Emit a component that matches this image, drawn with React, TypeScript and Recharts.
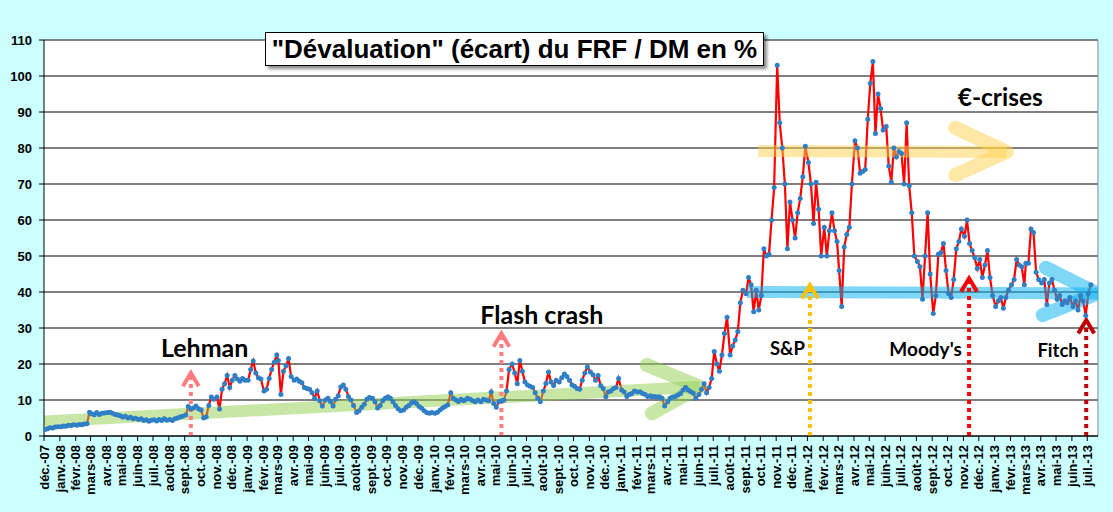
import {
  LineChart,
  Line,
  XAxis,
  YAxis,
  CartesianGrid,
  ReferenceLine,
  ReferenceDot,
} from "recharts";

// "Dévaluation" (écart) du FRF / DM en %,
// six readings per month (around the 3rd, 8th, 13th, 18th, 23rd and 28th)
const SAMPLE_DAYS = [3, 8, 13, 18, 23, 28];

const dev2007 = [1.8, 2.0, 2.3, 2.2, 2.5, 2.6]; // déc.

const dev2008 = [
  2.6, 2.8, 2.7, 3.0, 2.9, 3.1, // janv.
  3.0, 3.2, 3.1, 3.3, 3.4, 6.6, // févr.
  6.2, 5.9, 6.5, 6.0, 6.3, 6.4, // mars
  6.5, 6.6, 6.3, 6.0, 5.8, 5.6, // avr.
  5.3, 5.5, 5.0, 5.2, 4.8, 4.9, // mai
  4.6, 4.8, 4.3, 4.5, 4.1, 4.4, // juin
  4.5, 4.2, 4.6, 4.3, 4.8, 4.4, // juil.
  4.6, 4.3, 4.8, 5.0, 5.3, 5.5, // août
  5.8, 8.2, 7.5, 7.8, 8.3, 7.6, // sept.
  7.2, 5.0, 5.3, 8.5, 10.8, 10.2, // oct.
  10.8, 7.5, 13.0, 14.5, 16.8, 13.5, // nov.
  15.5, 16.8, 15.8, 15.2, 16.0, 15.5, // déc.
];

const dev2009 = [
  15.5, 18.5, 20.8, 17.5, 16.2, 15.8,
  12.5, 13.0, 16.0, 18.5, 20.5, 22.5,
  21.0, 11.5, 18.0, 19.5, 21.5, 16.5,
  15.5, 15.8, 15.2, 14.8, 13.5, 13.2,
  13.0, 12.0, 10.5, 12.5, 9.8, 8.3,
  10.0, 10.5, 9.5, 8.3, 10.2, 11.2,
  13.6, 14.2, 13.0, 11.0, 10.0, 8.5,
  6.5, 7.0, 8.0, 8.8, 10.2, 10.7,
  10.5, 9.5, 7.8, 8.5, 9.8, 10.5,
  10.9, 10.5, 9.5, 8.5, 7.6, 7.0,
  7.2, 8.0, 8.5, 9.2, 9.5, 9.0,
  8.2, 7.7, 7.0, 6.5, 6.3, 6.5,
];

const dev2010 = [
  6.3, 6.6, 7.2, 7.8, 8.2, 8.6,
  12.0, 10.5, 10.0, 9.6, 10.2, 9.8,
  10.0, 10.5, 10.2, 9.8, 9.5, 10.0,
  9.5, 10.2, 10.0, 9.8, 12.2, 9.0,
  8.0, 9.5, 9.8, 10.0, 12.5, 18.5,
  20.0, 17.5, 14.5, 21.0, 18.0, 15.0,
  14.2, 13.8, 13.5, 12.0, 10.5, 9.5,
  12.5, 14.6, 17.8, 15.0, 14.0, 15.5,
  15.0, 16.2, 17.2, 16.5, 15.5, 14.2,
  13.8, 13.2, 13.0, 15.5, 17.5, 19.2,
  17.8, 17.0, 15.5, 16.8, 14.0, 13.2,
  10.9, 12.2, 12.5, 13.2, 13.5, 16.0,
];

const dev2011 = [
  12.8, 12.2, 11.0, 11.5, 11.8, 12.5,
  12.2, 12.3, 11.8, 11.5, 11.0, 11.2,
  10.9, 11.0, 10.8, 10.9, 10.5, 8.3,
  9.5, 10.5, 10.8, 11.0, 11.4, 11.8,
  12.8, 13.5, 12.8, 12.3, 11.9, 10.5,
  11.5, 13.0, 14.5, 12.0, 13.5, 16.0,
  23.5, 20.0, 18.0, 22.5, 28.5, 33.0,
  22.5, 25.0, 26.7, 29.0, 37.0, 40.5,
  39.5, 44.0, 42.0, 34.5, 40.5, 35.0,
  39.0, 52.0, 50.0, 50.5, 60.0, 69.0,
  103.0, 87.0, 80.0, 70.0, 52.0, 65.0,
  60.0, 55.0, 62.0, 66.0, 72.0, 80.5,
];

const dev2012 = [
  76.0, 70.0, 59.0, 70.5, 63.0, 50.0,
  58.0, 50.0, 57.0, 62.0, 57.0, 54.0,
  46.0, 36.0, 52.5, 56.0, 58.0, 70.0,
  82.0, 80.0, 73.0, 73.5, 74.0, 88.0,
  98.0, 104.0, 84.0, 95.0, 91.0, 85.0,
  86.0, 75.0, 70.5, 80.0, 77.5, 79.0,
  78.5, 70.0, 87.0, 69.5, 62.0, 50.0,
  48.5, 47.0, 38.0, 50.0, 62.0, 45.0,
  34.0, 39.0, 50.5, 51.0, 53.5, 46.0,
  39.5, 38.5, 43.5, 52.0, 54.0, 57.5,
  55.5, 60.0, 53.5, 51.5, 49.5, 46.5,
  49.0, 44.0, 47.5, 51.5, 44.0, 39.0,
];

const dev2013 = [
  36.0, 37.5, 38.5, 35.5, 38.5, 40.5,
  42.0, 43.5, 49.0, 47.5, 47.0, 42.0,
  48.0, 48.0, 57.5, 56.5, 45.5, 43.5,
  42.5, 43.5, 36.5, 42.5, 43.5, 40.5,
  38.0, 39.0, 36.5, 37.5, 37.0, 38.5,
  36.0, 37.5, 35.0, 39.0, 37.5, 33.5,
  39.5, 42.0, // juil.
];

const MONTHS_FR = [
  "janv.", "févr.", "mars", "avr.", "mai", "juin",
  "juil.", "août", "sept.", "oct.", "nov.", "déc.",
];

const Y_TICKS = [0, 10, 20, 30, 40, 50, 60, 70, 80, 90, 100, 110];

// events: dotted arrows + captions
const events = [
  { name: "Lehman", at: [2008, 9, 13], tip: 17.5, color: "#FF7C80", text: [2008, 10, 10], textY: 24.4, size: 25 },
  { name: "Flash crash", at: [2010, 5, 13], tip: 28.5, color: "#FF7C80", text: [2010, 7, 31], textY: 33.5, size: 25 },
  { name: "S&P", at: [2012, 1, 6], tip: 41.9, color: "#FFC000", text: [2011, 11, 23], textY: 24.2, size: 18.5 },
  { name: "Moody's", at: [2012, 11, 12], tip: 43.8, color: "#FF0000", text: [2012, 8, 19], textY: 24.2, size: 19 },
  { name: "Fitch", at: [2013, 6, 29], tip: 32.2, color: "#C00000", text: [2013, 5, 5], textY: 23.9, size: 18.5 },
];

// broad translucent trend arrows: shaft start, tip, chevron arm ends
const trends = [
  { color: "#92D050", opacity: 0.5, from: [2007, 12, 1, 4.0], tip: [2011, 6, 5, 13.7], armA: [2011, 2, 21, 19.7], armB: [2011, 3, 3, 6.3] },
  { color: "#FFD24D", opacity: 0.5, from: [2011, 9, 27, 79.2], tip: [2013, 1, 25, 78.9], armA: [2012, 10, 16, 85.6], armB: [2012, 10, 16, 72.5] },
  { color: "#00B0F0", opacity: 0.5, from: [2011, 9, 5, 40.0], tip: [2013, 7, 21, 39.6], armA: [2013, 4, 11, 46.7], armB: [2013, 4, 5, 33.6] },
];

const ORIGIN = Date.UTC(2007, 11, 1);
const day = (y: number, m: number, d: number) =>
  (Date.UTC(y, m - 1, d) - ORIGIN) / 86400000;

const X_END = day(2013, 7, 22);

function buildSeries() {
  const years = [
    { year: 2007, first: 12, values: dev2007 },
    { year: 2008, first: 1, values: dev2008 },
    { year: 2009, first: 1, values: dev2009 },
    { year: 2010, first: 1, values: dev2010 },
    { year: 2011, first: 1, values: dev2011 },
    { year: 2012, first: 1, values: dev2012 },
    { year: 2013, first: 1, values: dev2013 },
  ];
  const out: { t: number; v: number }[] = [];
  years.forEach(({ year, first, values }) => {
    values.forEach((v, i) => {
      const month = first + Math.floor(i / SAMPLE_DAYS.length);
      out.push({ t: day(year, month, SAMPLE_DAYS[i % SAMPLE_DAYS.length]), v });
    });
  });
  return out;
}

const series = buildSeries();

const monthTicks: number[] = [];
for (let y = 2007, m = 12; y < 2013 || (y === 2013 && m <= 7); ) {
  monthTicks.push(day(y, m, 1));
  m++;
  if (m > 12) {
    m = 1;
    y++;
  }
}

function monthLabel(t: number) {
  const d = new Date(ORIGIN + Math.round(t) * 86400000);
  const yy = String(d.getUTCFullYear() % 100).padStart(2, "0");
  return `${MONTHS_FR[d.getUTCMonth()]}-${yy}`;
}

const MonthTick = (props: any) => {
  const { x, y, payload } = props;
  return (
    <text
      x={x}
      y={y}
      transform={`rotate(-90, ${x}, ${y})`}
      textAnchor="end"
      dy="0.36em"
      fontFamily="'Liberation Sans', Arial, sans-serif"
      fontWeight={700}
      fontSize={13}
      fill="#000"
    >
      {monthLabel(payload.value)}
    </text>
  );
};

const pt = (a: number[]) => ({ t: day(a[0], a[1], a[2]), v: a[3] });

const ARM_DAYS = 15.6;
const ARM_DROP = 3.7;

export default function App() {
  return (
    <div
      style={{
        position: "absolute",
        left: 0,
        top: 0,
        width: 1113,
        height: 512,
        background: "#CCFFFF",
        overflow: "hidden",
      }}
    >
      <LineChart
        width={1113}
        height={512}
        margin={{ top: 40, right: 15, left: 0, bottom: 0 }}
      >
        <CartesianGrid vertical={false} stroke="#000" fill="#fff" fillOpacity={1} />
        <XAxis
          dataKey="t"
          type="number"
          domain={[0, X_END]}
          allowDataOverflow
          ticks={monthTicks}
          interval={0}
          tick={<MonthTick />}
          tickSize={5}
          tickMargin={4}
          height={76}
          stroke="#000"
        />
        <YAxis
          type="number"
          domain={[0, 110]}
          ticks={Y_TICKS}
          interval={0}
          width={44}
          tickSize={5}
          tickMargin={7}
          stroke="#000"
          tick={{
            fill: "#000",
            fontSize: 13,
            fontWeight: 700,
            fontFamily: "'Liberation Sans', Arial, sans-serif",
          }}
        />
        <ReferenceLine y={110} stroke="#868686" />
        <ReferenceLine x={X_END} stroke="#868686" />

        <Line
          data={series}
          dataKey="v"
          type="linear"
          stroke="#FF0000"
          strokeWidth={2.2}
          dot={{ r: 2.5, fill: "#2F7FC6", stroke: "none" }}
          activeDot={false}
          isAnimationActive={false}
        />

        {trends.map((tr, i) => (
          <Line
            key={`shaft-${i}`}
            data={[pt(tr.from), pt(tr.tip)]}
            dataKey="v"
            type="linear"
            stroke={tr.color}
            strokeOpacity={tr.opacity}
            strokeWidth={12}
            strokeLinecap="butt"
            dot={false}
            activeDot={false}
            isAnimationActive={false}
          />
        ))}
        {trends.map((tr, i) => (
          <Line
            key={`head-${i}`}
            data={[pt(tr.armA), pt(tr.tip), pt(tr.armB)]}
            dataKey="v"
            type="linear"
            stroke={tr.color}
            strokeOpacity={tr.opacity}
            strokeWidth={14}
            strokeLinecap="round"
            strokeLinejoin="round"
            dot={false}
            activeDot={false}
            isAnimationActive={false}
          />
        ))}

        {events.map((ev) => {
          const t = day(ev.at[0], ev.at[1], ev.at[2]);
          return (
            <Line
              key={`shaft-${ev.name}`}
              data={[
                { t, v: 0 },
                { t, v: ev.tip - 0.8 },
              ]}
              dataKey="v"
              type="linear"
              stroke={ev.color}
              strokeWidth={4}
              strokeDasharray="4 4"
              dot={false}
              activeDot={false}
              isAnimationActive={false}
            />
          );
        })}
        {events.map((ev) => {
          const t = day(ev.at[0], ev.at[1], ev.at[2]);
          return (
            <Line
              key={`head-${ev.name}`}
              data={[
                { t: t - ARM_DAYS, v: ev.tip - ARM_DROP },
                { t, v: ev.tip },
                { t: t + ARM_DAYS, v: ev.tip - ARM_DROP },
              ]}
              dataKey="v"
              type="linear"
              stroke={ev.color}
              strokeWidth={4}
              dot={false}
              activeDot={false}
              isAnimationActive={false}
            />
          );
        })}

        {events.map((ev) => (
          <ReferenceDot
            key={`label-${ev.name}`}
            x={day(ev.text[0], ev.text[1], ev.text[2])}
            y={ev.textY}
            r={0}
            fill="none"
            stroke="none"
            label={{
              value: ev.name,
              position: "center",
              fill: "#000",
              fontSize: ev.size,
              fontWeight: 700,
              fontFamily: "Lato, 'Open Sans', sans-serif",
            }}
          />
        ))}
        <ReferenceDot
          x={day(2013, 1, 12)}
          y={94}
          r={0}
          fill="none"
          stroke="none"
          label={{
            value: "€-crises",
            position: "center",
            fill: "#000",
            fontSize: 24.5,
            fontWeight: 700,
            fontFamily: "Lato, 'Open Sans', sans-serif",
          }}
        />
      </LineChart>

      <div
        style={{
          position: "absolute",
          left: 265,
          top: 32,
          width: 497,
          height: 32,
          background: "#fff",
          border: "1px solid #000",
          boxShadow: "3px 3px 3px rgba(0,0,0,0.45)",
          fontFamily: "'Liberation Sans', Arial, sans-serif",
          fontWeight: 700,
          fontSize: 26,
          lineHeight: "32px",
          textAlign: "center",
          whiteSpace: "nowrap",
          color: "#000",
        }}
      >
        "Dévaluation" (écart) du FRF / DM en %
      </div>
    </div>
  );
}
